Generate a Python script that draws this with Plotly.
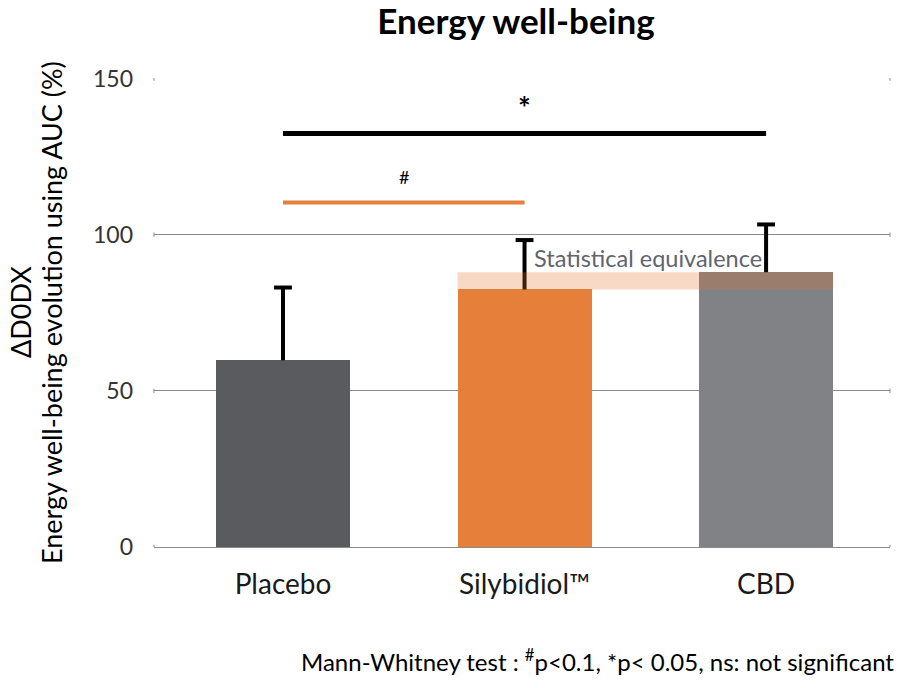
import plotly.graph_objects as go

categories = ["Placebo", "Silybidiol™", "CBD"]
values = [59.8, 82.5, 88.0]
err_plus = [23.3, 15.8, 15.3]
bar_colors = ["#5a5b5e", "#e57f3a", "#818286"]

# significance brackets
sig_from = [0, 0]
sig_to = [2, 1]
sig_level = [132.4, 110.3]
sig_label = ["*", "#"]
sig_label_y = [141.0, 118.5]
sig_color = ["#000000", "#e57f3a"]

equiv_x = [0.7225, 2.2775]
equiv_y = [82.5, 88.0]
equiv_text = "Statistical equivalence"

y_ticks = [0, 50, 100, 150]

FONT = "Lato"
BAR_W = 0.555
CAP_HALF = 0.037
GRID = "#8a8a8a"

# plot area in pixels (for placing paper-referenced text)
L, R, T, B = 154, 890, 78, 547


def px(x):
    return (x - L) / (R - L)


def py(y):
    return (B - y) / (B - T)


fig = go.Figure()
fig.add_trace(go.Bar(
    x=[0, 1, 2], y=values, width=BAR_W,
    marker=dict(color=bar_colors, line=dict(width=0)),
    showlegend=False, hoverinfo="skip",
))

shapes = []
annotations = []

# small end caps on gridlines
for tv in y_ticks:
    for xe in (0, 1):
        shapes.append(dict(type="line", xref="paper", yref="y", x0=xe, x1=xe,
                           y0=tv - 0.7, y1=tv + 0.7, line=dict(color=GRID, width=1),
                           layer="below"))

# error bars (upper only)
for i, (v, e) in enumerate(zip(values, err_plus)):
    shapes.append(dict(type="line", xref="x", yref="y", x0=i, x1=i, y0=v, y1=v + e,
                       line=dict(color="#000000", width=4), layer="above"))
    shapes.append(dict(type="line", xref="x", yref="y", x0=i - CAP_HALF, x1=i + CAP_HALF,
                       y0=v + e, y1=v + e, line=dict(color="#000000", width=4), layer="above"))

for f, t, lv, lab, col, ly in zip(sig_from, sig_to, sig_level, sig_label, sig_color, sig_label_y):
    shapes.append(dict(type="line", xref="x", yref="y", x0=f, x1=t, y0=lv, y1=lv,
                       line=dict(color=col, width=5 if col == "#000000" else 4)))
    annotations.append(dict(x=(f + t) / 2, y=ly, xref="x", yref="y", text=lab,
                            showarrow=False,
                            font=dict(family=FONT, size=30 if lab == "*" else 18,
                                      color="#000000", weight="bold" if lab == "*" else "normal")))

shapes.append(dict(type="rect", xref="x", yref="y", x0=equiv_x[0], x1=equiv_x[1],
                   y0=equiv_y[0], y1=equiv_y[1], fillcolor="rgba(225,114,44,0.27)",
                   line=dict(width=0), layer="above"))
annotations.append(dict(x=1.03, y=92.7, xref="x", yref="y", text=equiv_text,
                        showarrow=False, xanchor="left", yanchor="middle",
                        font=dict(family=FONT, size=23.5, color="#5f6470")))

# y-axis title (two lines, tight spacing)
annotations.append(dict(x=px(20), y=py(312), xref="paper", yref="paper", text="ΔD0DX",
                        textangle=-90, showarrow=False, xanchor="center", yanchor="middle",
                        font=dict(family=FONT, size=27, color="#000000")))
annotations.append(dict(x=px(51), y=py(313), xref="paper", yref="paper",
                        text="Energy well-being evolution using AUC (%)",
                        textangle=-90, showarrow=False, xanchor="center", yanchor="middle",
                        font=dict(family=FONT, size=27, color="#000000")))

# footer
annotations.append(dict(x=px(896), y=py(660), xref="paper", yref="paper",
                        xanchor="right", yanchor="middle",
                        text="Mann-Whitney test : <sup>#</sup>p<0.1, *p< 0.05, ns: not significant",
                        showarrow=False, font=dict(family=FONT, size=24, color="#000000")))

fig.update_layout(
    width=906, height=688,
    margin=dict(l=L, r=906 - R, t=T, b=688 - B),
    paper_bgcolor="white", plot_bgcolor="white",
    title=dict(text="Energy well-being", x=516 / 906, xanchor="center", y=1 - 22 / 688,
               yanchor="middle",
               font=dict(family=FONT, size=35, color="#000000", weight="bold")),
    xaxis=dict(range=[-0.534, 2.513], tickvals=[0, 1, 2], ticktext=categories,
               showgrid=False, zeroline=False, showline=False, ticks="",
               ticklabelstandoff=18,
               tickfont=dict(family=FONT, size=28, color="#1a1a1a")),
    yaxis=dict(range=[0, 150.2], tickvals=y_ticks, showgrid=True, gridcolor=GRID,
               gridwidth=1, zeroline=True, zerolinecolor=GRID, zerolinewidth=1,
               showline=False, ticks="", ticklabelstandoff=20,
               tickfont=dict(family=FONT, size=23, color="#333333")),
    shapes=shapes, annotations=annotations,
    bargap=0,
)

fig.write_html("out.html", config={"displayModeBar": False},
               post_script="document.body.style.margin='0';document.body.style.overflow='hidden';")
